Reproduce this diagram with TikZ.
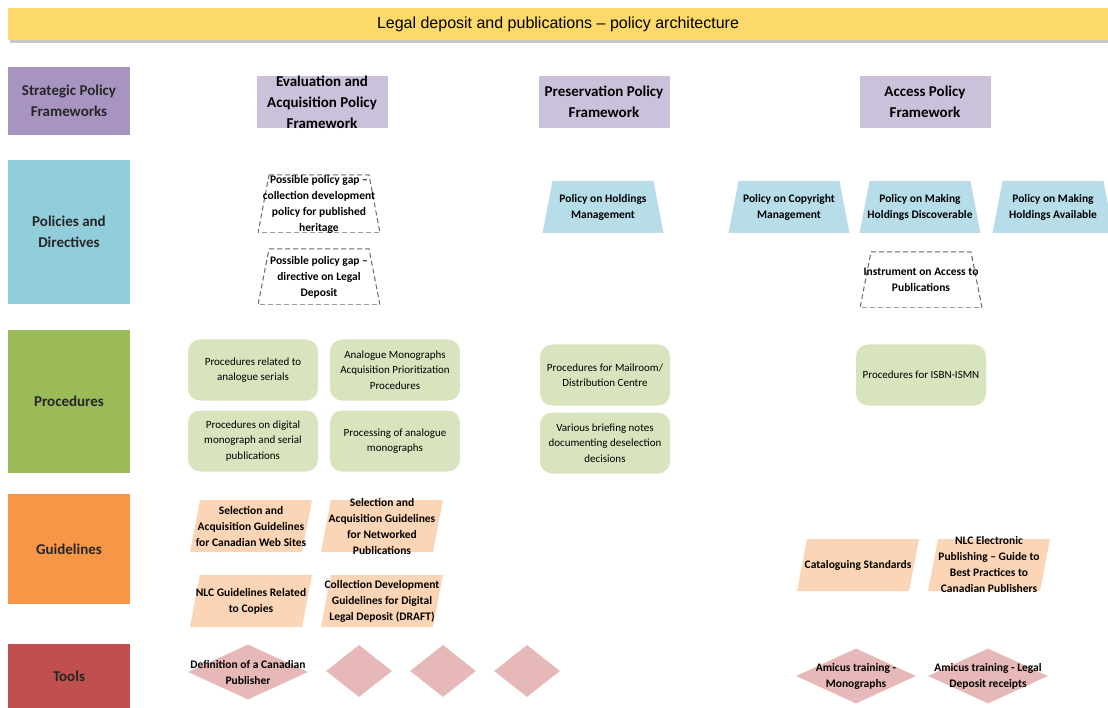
\documentclass[tikz,border=0pt]{standalone}
\usepackage{fontspec}
\setmainfont{Carlito}
\newfontfamily\titlefont{Liberation Sans}
\usetikzlibrary{shapes.geometric}
\definecolor{titlec}{HTML}{FDD96B}
\definecolor{stratc}{HTML}{A794C0}
\definecolor{fwc}{HTML}{CCC1DA}
\definecolor{polleft}{HTML}{92CDDC}
\definecolor{polc}{HTML}{B7DDE8}
\definecolor{procleft}{HTML}{9BBB59}
\definecolor{procc}{HTML}{D7E4BD}
\definecolor{guidleft}{HTML}{F79646}
\definecolor{guidc}{HTML}{FBD5B5}
\definecolor{toolleft}{HTML}{C0504D}
\definecolor{toolc}{HTML}{E6B9B8}
\tikzset{
    small/.style={font=\fontsize{11.5}{16}\selectfont\bfseries, align=center, inner sep=0},
    txt/.style={label={[small]center:#1}},
    lvl/.style={fill=#1, minimum width=122, inner sep=0, align=center, font=\fontsize{15}{21}\selectfont\bfseries, text=black!85},
    fw/.style={fill=fwc, minimum width=131, minimum height=52, inner sep=0, label={[align=center, inner sep=0, font=\fontsize{15}{21}\selectfont\bfseries]center:#1}},
    % narrow top, wide bottom
    trap/.style 2 args={inner sep=0, path picture={\path[#1]
        ([xshift=#2]path picture bounding box.north west) -- ([xshift=-#2]path picture bounding box.north east)
        -- (path picture bounding box.south east) -- (path picture bounding box.south west) -- cycle;}},
    % top shifted to the right
    para/.style 2 args={inner sep=0, path picture={\path[#1]
        ([xshift=#2]path picture bounding box.north west) -- (path picture bounding box.north east)
        -- ([xshift=-#2]path picture bounding box.south east) -- (path picture bounding box.south west) -- cycle;}},
    pol/.style={trap={fill=polc}{10}, minimum width=121, minimum height=52},
    gap/.style={trap={draw=black!60, dash pattern=on 5pt off 3pt, line width=1pt}{11}, minimum width=122, minimum height=56},
    proc/.style={rounded corners=12, fill=procc, minimum width=130, minimum height=61, inner sep=0, align=center, font=\fontsize{11}{15.5}\selectfont},
    guid/.style={para={fill=guidc}{10}, minimum width=122, minimum height=52},
    tool/.style={diamond, minimum width=120, minimum height=55, inner sep=0, fill=toolc},
}
\begin{document}
\begin{tikzpicture}[x=1pt, y=-1pt]
    \useasboundingbox (0,0) rectangle (1108,708);
    \fill[black!22] (10,11) rectangle (1108,43);
    \node[fill=titlec, minimum width=1100, minimum height=32, inner sep=0, font=\titlefont\fontsize{16}{18}\selectfont] (title) at (558,24) {Legal deposit and publications – policy architecture};
    % levels
    \node[lvl=stratc, minimum height=68] (strat) at (69,101) {Strategic Policy\\Frameworks};
    \node[lvl=polleft, minimum height=144] (pold) at (69,232) {Policies and\\Directives};
    \node[lvl=procleft, minimum height=143] (procs) at (69,401.5) {Procedures};
    \node[lvl=guidleft, minimum height=110] (guides) at (69,549) {Guidelines};
    \node[lvl=toolleft, minimum height=64] (tools) at (69,676) {Tools};
    % frameworks
    \node[fw={Evaluation and\\Acquisition Policy\\Framework}] (evalfw) at (322,102) {};
    \node[fw={Preservation Policy\\Framework}] (presfw) at (604,102) {};
    \node[fw={Access Policy\\Framework}] (accfw) at (925,102) {};
    % policies and directives
    \node[gap, minimum height=58, txt={Possible policy gap --\\collection development\\policy for published\\heritage}] (gapcoll) at (319,204) {};
    \node[gap, txt={Possible policy gap --\\directive on Legal\\Deposit}] (gapld) at (319,277) {};
    \node[pol, txt={Policy on Holdings\\Management}] (holdings) at (603,207) {};
    \node[pol, txt={Policy on Copyright\\Management}] (copyright) at (789,207) {};
    \node[pol, txt={Policy on Making\\Holdings Discoverable}] (discover) at (920,207) {};
    \node[pol, txt={Policy on Making\\Holdings Available}] (avail) at (1053,207) {};
    \node[gap, txt={Instrument on Access to\\Publications}] (instr) at (921,280) {};
    % procedures
    \node[proc] (pserials) at (253,370) {Procedures related to\\analogue serials};
    \node[proc] (pprior) at (395,370) {Analogue Monographs\\Acquisition Prioritization\\Procedures};
    \node[proc] (pdigital) at (253,441) {Procedures on digital\\monograph and serial\\publications};
    \node[proc] (pmono) at (395,441) {Processing of analogue\\monographs};
    \node[proc] (pmail) at (605,375) {Procedures for Mailroom/\\Distribution Centre};
    \node[proc] (pbrief) at (605,443) {Various briefing notes\\documenting deselection\\decisions};
    \node[proc] (pisbn) at (921,375) {Procedures for ISBN-ISMN};
    % guidelines
    \node[guid, txt={Selection and\\Acquisition Guidelines\\for Canadian Web Sites}] (gweb) at (251,526) {};
    \node[guid, txt={Selection and\\Acquisition Guidelines\\for Networked\\Publications}] (gnet) at (382,526) {};
    \node[guid, txt={NLC Guidelines Related\\to Copies}] (gcopies) at (251,601) {};
    \node[guid, txt={Collection Development\\Guidelines for Digital\\Legal Deposit (DRAFT)}] (gdigital) at (382,601) {};
    \node[guid, txt={Cataloguing Standards}] (gcat) at (858,565) {};
    \node[guid, txt={NLC Electronic\\Publishing -- Guide to\\Best Practices to\\Canadian Publishers}] (gnlc) at (989,565) {};
    % tools
    \node[tool, txt={Definition of a Canadian\\Publisher}] (tdef) at (248,672) {};
    \foreach \x/\n in {359/tb, 443/tc, 527/td}
        \node[tool, minimum width=66, minimum height=52] (\n) at (\x,671) {};
    \node[tool, txt={Amicus training -\\Monographs}] (tmono) at (856,676) {};
    \node[tool, txt={Amicus training - Legal\\Deposit receipts}] (treceipts) at (988,676) {};
\end{tikzpicture}
\end{document}
